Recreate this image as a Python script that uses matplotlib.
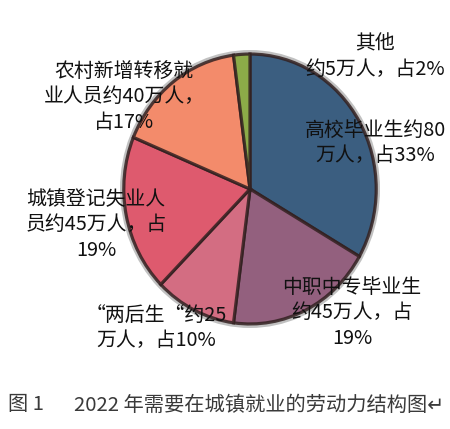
import matplotlib
matplotlib.use('Agg')
import matplotlib.pyplot as plt
from matplotlib.patches import Ellipse

plt.rcParams['font.family'] = ['Noto Sans CJK SC', 'DejaVu Sans']

# data (clockwise from 12 o'clock)
categories = ['高校毕业生', '中职中专毕业生', '两后生', '城镇登记失业人员', '农村新增转移就业人员', '其他']
values = [80, 45, 25, 45, 40, 5]
colors = ['#3B5E80', '#93607E', '#D36D82', '#DE5A6E', '#F38B6B', '#8CAB48']
labels = [
  '高校毕业生约80\n万人，占33%',
  '中职中专毕业生\n约45万人，占\n19%',
  '“两后生“约25\n万人，占10%',
  '城镇登记失业人\n员约45万人，占\n19%',
  '农村新增转移就\n业人员约40万人，\n占17%',
  '其他\n约5万人，占2%',
]
# label centres in pixels (x, y from top)
labelPos = [(375, 143), (352, 313), (156, 328), (96, 225), (124, 97), (375, 57)]

W, H = 450, 429
fig = plt.figure(figsize=(W / 100, H / 100), dpi=100)
fig.patch.set_facecolor('white')

# pie box in pixels: left 120, right 380, top 50, bottom 328
ax = fig.add_axes([120 / W, 1 - 328 / H, 260 / W, 278 / H])
ax.add_patch(Ellipse((0.0, 0.0), 2.06, 2.06, facecolor='#999999', alpha=0.6,
                     edgecolor='none', zorder=0))
wedges, _ = ax.pie(values, colors=colors, startangle=90, counterclock=False,
                   radius=1.0,
                   wedgeprops=dict(edgecolor=(0.2, 0.13, 0.13, 0.85), linewidth=2.3))
for w in wedges:
  w.set_zorder(2)
ax.set_aspect('auto')
ax.set_xlim(-1.03, 1.03)
ax.set_ylim(-1.03, 1.03)
ax.axis('off')

for txt, (px, py) in zip(labels, labelPos):
  fig.text(px / W, 1 - py / H, txt, ha='center', va='center', multialignment='center',
           fontsize=14.3, color='#111111', linespacing=1.3, zorder=5)

# caption
fig.text(8 / W, 1 - 405 / H, '图 1', ha='left', va='center', fontsize=14.6, color='#3a3a3a')
fig.text(74 / W, 1 - 405 / H, '2022 年需要在城镇就业的劳动力结构图↵', ha='left', va='center',
         fontsize=14.6, color='#3a3a3a')

plt.savefig('out.png', dpi=100)
